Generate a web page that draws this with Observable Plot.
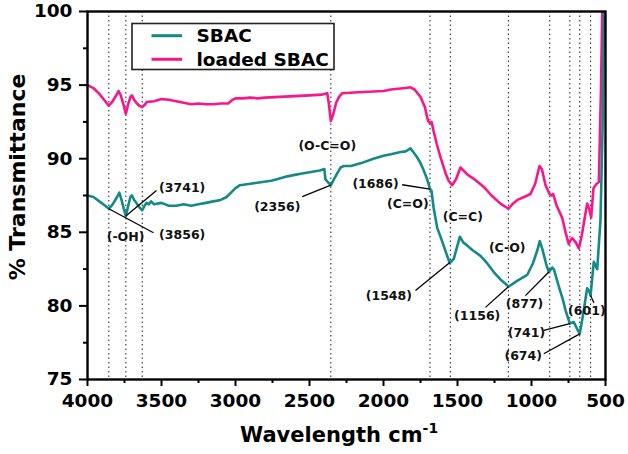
<!DOCTYPE html>
<html>
<head>
<meta charset="utf-8">
<script src="https://cdn.jsdelivr.net/npm/d3@7"></script>
<script src="https://cdn.jsdelivr.net/npm/@observablehq/plot@0.6"></script>
<style>
  html, body { margin: 0; padding: 0; background: #fff; }
  svg text { font-family: "DejaVu Sans", sans-serif; font-weight: bold; }
</style>
</head>
<body>
<div id="chart"></div>
<script>
// ---- data ----
const sbacWave = [4000,3960,3920,3880,3856,3830,3800,3785,3770,3755,3741,3725,3710,3700,3685,3670,3650,3630,3615,3600,3585,3570,3550,3500,3450,3400,3350,3300,3250,3200,3150,3100,3060,3030,3000,2970,2900,2830,2760,2720,2650,2600,2550,2490,2430,2400,2392,2375,2356,2335,2313,2290,2270,2220,2150,2068,2000,1950,1885,1850,1818,1795,1773,1750,1728,1705,1686,1675,1662,1637,1604,1570,1552,1525,1484,1460,1446,1400,1345,1300,1255,1210,1164,1156,1097,1029,990,960,944,925,900,883,860,849,815,790,770,741,714,690,674,650,624,610,601,579,556,534,520,510];
const sbacT = [87.5,87.4,87.1,86.8,86.6,86.9,87.4,87.7,87.2,86.6,86.1,86.8,87.4,87.5,87.2,87.0,86.7,86.5,86.8,87.0,86.9,87.1,86.9,87.0,86.8,86.8,86.9,86.8,86.9,87.0,87.1,87.2,87.4,87.7,88.0,88.2,88.3,88.4,88.5,88.6,88.8,88.9,89.0,89.1,89.2,89.3,88.6,88.4,88.2,88.6,89.0,89.4,89.5,89.5,89.7,90.0,90.2,90.3,90.45,90.5,90.7,90.4,90.1,89.7,89.2,88.6,87.95,87.8,86.7,85.3,84.4,83.4,82.9,83.2,84.7,84.3,84.2,83.8,83.4,82.9,82.3,81.8,81.4,81.3,81.7,82.1,82.9,83.8,84.4,83.8,82.8,82.3,82.6,82.5,81.3,80.5,79.7,78.8,78.9,78.4,78.1,79.5,81.2,81.0,80.7,83.0,82.5,85.8,92.0,100];

const loadedWave = [4000,3960,3920,3880,3856,3830,3800,3790,3775,3755,3741,3725,3710,3700,3685,3670,3650,3630,3610,3600,3550,3500,3450,3400,3350,3300,3250,3200,3150,3100,3050,3020,3000,2950,2900,2850,2800,2700,2600,2500,2420,2380,2370,2356,2340,2320,2300,2280,2200,2100,2000,1950,1900,1850,1818,1790,1750,1720,1700,1686,1675,1662,1640,1615,1580,1560,1536,1510,1480,1460,1430,1392,1324,1270,1210,1155,1130,1095,1050,1007,975,946,930,905,878,865,853,830,793,770,748,735,725,700,680,660,640,624,610,597,581,560,545,530,522];
const loadedT = [95.0,94.8,94.4,93.9,93.6,93.9,94.4,94.6,94.3,93.6,93.05,93.7,94.2,94.3,94.0,93.8,93.6,93.5,93.7,93.85,93.9,94.05,94.0,93.9,93.8,93.7,93.75,93.7,93.7,93.75,93.75,94.0,94.1,94.1,94.15,94.1,94.15,94.2,94.25,94.3,94.35,94.45,93.8,92.55,93.0,93.8,94.2,94.45,94.5,94.55,94.6,94.7,94.75,94.8,94.85,94.7,94.2,93.5,92.6,92.4,92.5,91.9,91.0,90.1,89.0,88.5,88.2,88.6,89.4,89.2,88.9,88.65,88.1,87.5,86.95,86.6,86.9,87.2,87.4,87.6,88.3,89.5,89.3,88.2,87.6,87.5,87.6,86.8,86.0,85.0,84.2,84.5,84.6,84.3,83.9,84.8,86.0,86.95,86.6,86.0,88.0,88.3,88.4,95.0,100];

const peakLines = [3856,3741,3630,2356,1686,1548,1156,877,741,674,601];

const xTicks = [4000,3500,3000,2500,2000,1500,1000,500];
const xMinor = [3750,3250,2750,2250,1750,1250,750];
const yTicks = [75,80,85,90,95,100];
const yMinor = [77.5,82.5,87.5,92.5,97.5];

const labelText = ["(3741)","(3856)","(-OH)","(2356)","(O-C=O)","(1686)","(C=O)","(C=C)","(1548)","(C-O)","(1156)","(877)","(741)","(674)","(601)"];
const labelWave = [3360,3360,3743,2718,2380,2054,1836,1464,1964,1164,1367,1047,1034,1056,626];
const labelT    = [87.98,84.8,84.67,86.7,90.85,88.3,86.9,86.07,80.64,83.95,79.28,80.1,78.15,76.63,79.64];

const leaderWave1 = [3741,3856,2356,1686,1552,1156,883,741,674,601];
const leaderT1    = [86.1,86.6,88.2,87.94,82.95,81.3,82.3,78.8,78.1,80.7];
const leaderWave2 = [3534,3554,2549,1874,1784,1311,1041,917,917,578];
const leaderT2    = [87.84,84.97,87.43,88.23,81.05,79.9,80.7,78.33,76.75,80.2];

const seriesNames = ["SBAC","loaded SBAC"];
const seriesColors = ["#138a87","#f8168a"];

// ---- tables ----
const sbac = sbacWave.map((w,i) => ({w, t: sbacT[i]}));
const loaded = loadedWave.map((w,i) => ({w, t: loadedT[i]}));
const labels = labelText.map((s,i) => ({s, w: labelWave[i], t: labelT[i]}));
const leaders = leaderWave1.map((w,i) => ({w1: w, t1: leaderT1[i], w2: leaderWave2[i], t2: leaderT2[i]}));

const chart = Plot.plot({
  width: 628,
  height: 454,
  marginLeft: 87,
  marginRight: 23,
  marginTop: 11,
  marginBottom: 75,
  style: {background: "white", color: "black", fontFamily: "DejaVu Sans", fontWeight: "bold"},
  x: {domain: [4000, 500], axis: null},
  y: {domain: [75, 100], axis: null},
  marks: [
    Plot.ruleX(peakLines, {stroke: "#333", strokeWidth: 1.1, strokeDasharray: "1.5,3"}),
    Plot.line(loaded, {x: "w", y: "t", stroke: seriesColors[1], strokeWidth: 2.6, clip: true}),
    Plot.line(sbac, {x: "w", y: "t", stroke: seriesColors[0], strokeWidth: 2.6, clip: true}),
    Plot.link(leaders, {x1: "w1", y1: "t1", x2: "w2", y2: "t2", stroke: "black", strokeWidth: 1.3}),
    Plot.text(labels, {x: "w", y: "t", text: "s", fontSize: 12.5, fontWeight: "bold", fill: "#111"}),
    Plot.axisX({ticks: xTicks, tickSize: 7, tickPadding: 7, tickFormat: d3.format("d"), fontSize: 18.5, fontWeight: "bold", label: null, strokeWidth: 2}),
    Plot.axisX({ticks: xMinor, tickSize: 4, tickFormat: () => "", label: null, strokeWidth: 2}),
    Plot.axisY({ticks: yTicks, tickSize: 8, tickPadding: 7, tickFormat: d3.format("d"), fontSize: 18.5, fontWeight: "bold", label: null, strokeWidth: 2}),
    Plot.axisY({ticks: yMinor, tickSize: 4, tickFormat: () => "", label: null, strokeWidth: 2}),
    Plot.frame({stroke: "black", strokeWidth: 2.4})
  ]
});
document.getElementById("chart").appendChild(chart);

// ---- titles and legend ----
const svg = d3.select(chart);
const xt = svg.append("text")
  .attr("x", 240).attr("y", 442)
  .attr("text-anchor", "start")
  .attr("font-size", 21).attr("font-weight", "bold").attr("fill", "black")
  .attr("font-family", "DejaVu Sans");
xt.append("tspan").text("Wavelength cm");
xt.append("tspan").attr("dy", -9).attr("font-size", 14).text("-1");

svg.append("text")
  .attr("transform", "translate(25,177) rotate(-90)")
  .attr("text-anchor", "middle")
  .attr("font-size", 22).attr("font-weight", "bold").attr("fill", "black")
  .attr("font-family", "DejaVu Sans")
  .text("% Transmittance");

const lg = svg.append("g");
lg.append("rect").attr("x", 132).attr("y", 23.5).attr("width", 202).attr("height", 46)
  .attr("fill", "white").attr("stroke", "#222").attr("stroke-width", 1.6);
seriesNames.forEach((name, i) => {
  const cy = 35.7 + i * 23.6;
  lg.append("line").attr("x1", 151.5).attr("x2", 182).attr("y1", cy).attr("y2", cy)
    .attr("stroke", seriesColors[i]).attr("stroke-width", 3);
  lg.append("text").attr("x", 196.5).attr("y", cy).attr("dy", "0.36em")
    .attr("text-anchor", "start")
    .attr("font-size", 18.5).attr("font-weight", "bold").attr("fill", "black")
    .attr("font-family", "DejaVu Sans").text(name);
});
</script>
</body>
</html>
